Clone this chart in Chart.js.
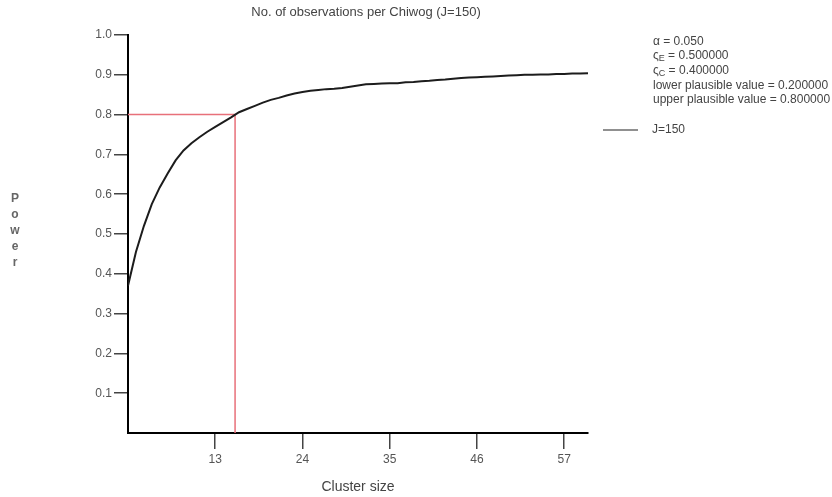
<!DOCTYPE html>
<html>
<head>
<meta charset="utf-8">
<script src="https://cdn.jsdelivr.net/npm/chart.js@4"></script>
<style>
  html, body { margin: 0; padding: 0; background: #fff; }
  canvas { display: block; }
</style>
</head>
<body>
<canvas id="powerChart" width="832" height="497"></canvas>
<script>
/* Power curve: no. of observations per Chiwog (J=150) */

// cluster sizes and the power
const clusterSizes = [2, 3, 4, 5, 6, 7, 8, 9, 10, 11, 12, 13, 14, 15, 16, 17, 18, 19, 20,
  21, 22, 23, 24, 25, 26, 27, 28, 29, 30, 31, 32, 33, 34, 35, 36, 37, 38, 39, 40,
  41, 42, 43, 44, 45, 46, 47, 48, 49, 50, 51, 52, 53, 54, 55, 56, 57, 58, 59, 60];
const power = [0.370, 0.455, 0.520, 0.575, 0.617, 0.652, 0.685, 0.710, 0.728, 0.743,
  0.757, 0.769, 0.781, 0.793, 0.806, 0.814, 0.822, 0.830, 0.837, 0.842,
  0.848, 0.853, 0.857, 0.860, 0.862, 0.864, 0.865, 0.867, 0.870, 0.873,
  0.876, 0.877, 0.878, 0.879, 0.879, 0.881, 0.882, 0.884, 0.885, 0.887,
  0.888, 0.890, 0.892, 0.893, 0.894, 0.895, 0.896, 0.897, 0.898, 0.899,
  0.900, 0.900, 0.901, 0.901, 0.902, 0.902, 0.903, 0.903, 0.904];

// red guide: power 0.8 reached at cluster size ~15.5
const guideX = [2, 15.5, 15.5];
const guideY = [0.8, 0.8, 0];

const xTicks = [13, 24, 35, 46, 57];
const yTicks = [0.1, 0.2, 0.3, 0.4, 0.5, 0.6, 0.7, 0.8, 0.9, 1.0];

const chartTitle = 'No. of observations per Chiwog (J=150)';
const seriesName = 'J=150';
const yTitle = 'Power';
const xTitle = 'Cluster size';
// [symbol, subscript, value text]
const paramLines = [
  ['\u03B1', '', ' = 0.050'],
  ['\u03C2', 'E', ' = 0.500000'],
  ['\u03C2', 'C', ' = 0.400000'],
  ['lower plausible value', '', ' = 0.200000'],
  ['upper plausible value', '', ' = 0.800000']
];

const FONT = '"Liberation Sans", Arial, sans-serif';
const TEXT = '#444';

/* ---------------------------------------------------------------
   extra text: title, vertical "Power", parameter block, legend
   --------------------------------------------------------------- */
const sideText = {
  id: 'sideText',
  afterDraw(chart) {
    const c = chart.ctx;
    c.save();
    c.fillStyle = TEXT;
    c.textBaseline = 'middle';

    // title
    c.font = `13px ${FONT}`;
    c.textAlign = 'center';
    c.fillText(chartTitle, 366, 12);

    // stacked y title
    c.font = `bold 12px ${FONT}`;
    c.fillStyle = '#666';
    [...yTitle].forEach((ch, i) => c.fillText(ch, 15, 199 + i * 16));

    // parameter block
    c.fillStyle = TEXT;
    c.textAlign = 'left';
    const rows = [42, 56, 71, 86, 100];
    paramLines.forEach(([sym, sub, val], i) => {
      let x = 653;
      const y = rows[i];
      c.font = `12px ${FONT}`;
      c.fillText(sym, x, y);
      x += c.measureText(sym).width;
      if (sub) {
        c.font = `9px ${FONT}`;
        c.fillText(sub, x, y + 3);
        x += c.measureText(sub).width;
      }
      c.font = `12px ${FONT}`;
      c.fillText(val, x, y);
    });

    // legend entry
    c.strokeStyle = '#222';
    c.lineWidth = 1.2;
    c.beginPath();
    c.moveTo(603, 130);
    c.lineTo(638, 130);
    c.stroke();
    c.fillText(seriesName, 652, 130);

    c.restore();
  }
};

const ctx = document.getElementById('powerChart').getContext('2d');
new Chart(ctx, {
  type: 'line',
  data: {
    datasets: [
      {
        label: seriesName,
        data: clusterSizes.map((x, i) => ({ x, y: power[i] })),
        borderColor: '#1c1c1c',
        borderWidth: 2,
        pointRadius: 0,
        tension: 0,
        order: 0
      },
      {
        label: 'guide',
        data: guideX.map((x, i) => ({ x, y: guideY[i] })),
        borderColor: '#e8707a',
        borderWidth: 1.5,
        pointRadius: 0,
        tension: 0,
        order: 1
      }
    ]
  },
  options: {
    responsive: false,
    animation: false,
    layout: { padding: { left: 0, right: 244, top: 35, bottom: 0 } },
    plugins: {
      legend: { display: false },
      title: { display: false },
      tooltip: { enabled: false }
    },
    scales: {
      x: {
        type: 'linear',
        min: 2,
        max: 60,
        afterBuildTicks: s => { s.ticks = xTicks.map(v => ({ value: v })); },
        afterFit: s => { s.height = 64; },
        grid: { drawOnChartArea: false, drawTicks: true, tickLength: 16, color: '#444', lineWidth: 1.5 },
        border: { color: '#000', width: 2 },
        ticks: { font: { family: FONT, size: 12 }, color: '#555', padding: 3 },
        title: { display: true, text: xTitle, font: { family: FONT, size: 14 }, color: TEXT, padding: { top: 0, bottom: 1 } }
      },
      y: {
        min: 0,
        max: 1,
        afterBuildTicks: s => { s.ticks = yTicks.map(v => ({ value: v })); },
        afterFit: s => { s.width = 128; },
        grid: { drawOnChartArea: false, drawTicks: true, tickLength: 14, color: '#444', lineWidth: 1.5 },
        border: { color: '#000', width: 2 },
        ticks: { font: { family: FONT, size: 12 }, color: '#555', padding: 2, callback: v => v.toFixed(1) }
      }
    }
  },
  plugins: [sideText]
});
</script>
</body>
</html>
